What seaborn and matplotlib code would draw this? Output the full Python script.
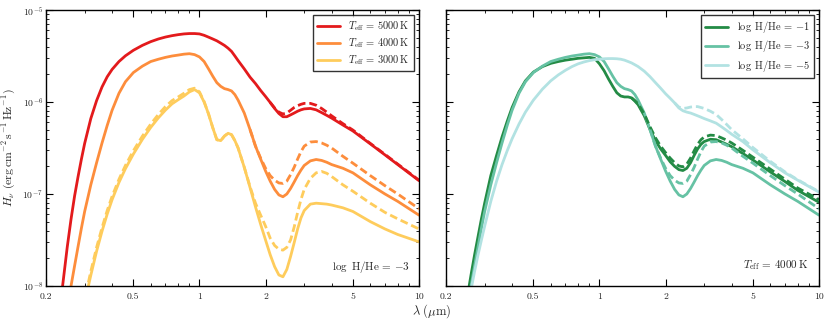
import matplotlib
matplotlib.use("Agg")
import matplotlib.pyplot as plt
import seaborn as sns
from matplotlib.ticker import LogLocator, NullFormatter, FixedLocator, FixedFormatter

# wavelength grid in micron; curve values are log10 H_nu (erg cm^-2 s^-1 Hz^-1)
lam_grid = [0.30, 0.32, 0.34, 0.36, 0.38, 0.40,
            0.43, 0.46, 0.50, 0.55, 0.60,
            0.65, 0.70, 0.75, 0.80, 0.85,
            0.90, 0.95, 1.0, 1.05, 1.1,
            1.15, 1.2, 1.25, 1.3, 1.35,
            1.4, 1.45, 1.5, 1.6, 1.7,
            1.8, 1.9, 2.0, 2.1, 2.2,
            2.3, 2.4, 2.5, 2.6, 2.7,
            2.8, 2.9, 3.0, 3.2, 3.4,
            3.6, 3.8, 4.0, 4.5, 5.0,
            6.0, 7.0, 8.0, 10.0]

# left panel, log H/He = -3
lam_5000 = [0.238, 0.25, 0.26, 0.27, 0.28, 0.29] + lam_grid
logh_5000 = [-8.0, -7.574, -7.275, -7.02, -6.81, -6.62,
             -6.45, -6.18, -5.985, -5.836, -5.726, -5.646,
             -5.56, -5.498, -5.438, -5.384, -5.344,
             -5.315, -5.294, -5.279, -5.268, -5.26,
             -5.256, -5.256, -5.26, -5.275, -5.295,
             -5.315, -5.335, -5.36, -5.385, -5.415,
             -5.45, -5.5, -5.55, -5.64, -5.73,
             -5.80, -5.875, -5.94, -6.005, -6.07,
             -6.125, -6.16, -6.16, -6.14, -6.12,
             -6.10, -6.085, -6.075, -6.07, -6.085,
             -6.115, -6.145, -6.175, -6.25, -6.315,
             -6.455, -6.575, -6.68, -6.855]
lam_5000d = [x for x in lam_grid if x >= 2.1]
logh_5000d = [-6.005, -6.065,
              -6.11, -6.13, -6.12, -6.09, -6.06,
              -6.04, -6.025, -6.015, -6.015, -6.035,
              -6.07, -6.11, -6.15, -6.235, -6.305,
              -6.45, -6.57, -6.675, -6.85]

lam_4000 = [0.26, 0.27, 0.28, 0.29] + lam_grid
logh_4000 = [-8.0, -7.78, -7.57, -7.37,
             -7.19, -6.9, -6.66, -6.445, -6.255, -6.09,
             -5.905, -5.78, -5.68, -5.61, -5.56,
             -5.535, -5.515, -5.50, -5.49, -5.48,
             -5.475, -5.485, -5.51, -5.56, -5.64,
             -5.72, -5.79, -5.83, -5.855, -5.865,
             -5.88, -5.92, -5.98, -6.12, -6.3,
             -6.48, -6.62, -6.75, -6.86, -6.95,
             -7.01, -7.03, -7.0, -6.94, -6.87,
             -6.8, -6.74, -6.69, -6.64, -6.625,
             -6.635, -6.655, -6.68, -6.72, -6.77,
             -6.9, -7.0, -7.08, -7.23]
lam_4000d = [x for x in lam_grid if x >= 1.7]
logh_4000d = [-6.3,
              -6.48, -6.61, -6.72, -6.8, -6.85,
              -6.88, -6.885, -6.86, -6.79, -6.71,
              -6.62, -6.54, -6.48, -6.435, -6.43,
              -6.445, -6.47, -6.5, -6.59, -6.665,
              -6.8, -6.91, -7.0, -7.16]

lam_3000 = [0.312] + [x for x in lam_grid if x >= 0.32]
logh_3000 = [-8.0,
             -7.883, -7.622, -7.404, -7.218, -7.062,
             -6.874, -6.725, -6.566, -6.405, -6.276,
             -6.172, -6.088, -6.02, -5.975, -5.935,
             -5.89, -5.865, -5.9, -6.0, -6.13,
             -6.28, -6.41, -6.42, -6.37, -6.34,
             -6.355, -6.42, -6.5, -6.71, -6.93,
             -7.14, -7.33, -7.5, -7.66, -7.79,
             -7.88, -7.9, -7.82, -7.68, -7.53,
             -7.38, -7.26, -7.18, -7.11, -7.1,
             -7.105, -7.11, -7.12, -7.15, -7.19,
             -7.3, -7.38, -7.44, -7.52]
lam_3000d = lam_3000
logh_3000d = [-7.96,
              -7.84, -7.58, -7.365, -7.18, -7.025,
              -6.84, -6.69, -6.53, -6.37, -6.24,
              -6.135, -6.05, -5.985, -5.945, -5.905,
              -5.865, -5.85, -5.89, -5.995, -6.13,
              -6.28, -6.41, -6.42, -6.37, -6.34,
              -6.355, -6.42, -6.5, -6.71, -6.92,
              -7.1, -7.23, -7.35, -7.48, -7.56,
              -7.6, -7.61, -7.58, -7.5, -7.36,
              -7.2, -7.06, -6.95, -6.83, -6.77,
              -6.755, -6.775, -6.81, -6.9, -6.97,
              -7.1, -7.2, -7.27, -7.38]

# right panel, Teff = 4000 K (log H/He = -3 is the 4000 K curve above)
lam_hhe1 = [0.255, 0.26, 0.27, 0.28, 0.29] + lam_grid
logh_hhe1 = [-8.0, -7.88, -7.66, -7.46, -7.27,
             -7.1, -6.8, -6.58, -6.38, -6.21, -6.06,
             -5.89, -5.77, -5.675, -5.615, -5.58,
             -5.56, -5.545, -5.535, -5.525, -5.52,
             -5.515, -5.525, -5.585, -5.66, -5.75,
             -5.83, -5.9, -5.935, -5.945, -5.945,
             -5.955, -5.99, -6.03, -6.15, -6.3,
             -6.42, -6.51, -6.58, -6.65, -6.7,
             -6.735, -6.745, -6.72, -6.66, -6.58,
             -6.51, -6.46, -6.43, -6.405, -6.41,
             -6.435, -6.46, -6.485, -6.56, -6.63,
             -6.76, -6.865, -6.96, -7.09]
lam_hhe1d = [x for x in lam_grid if x >= 1.4]
logh_hhe1d = [-5.955, -5.985, -6.02, -6.13, -6.27,
              -6.39, -6.48, -6.55, -6.61, -6.66,
              -6.695, -6.705, -6.675, -6.61, -6.53,
              -6.46, -6.41, -6.38, -6.36, -6.365,
              -6.39, -6.415, -6.445, -6.525, -6.6,
              -6.73, -6.84, -6.935, -7.06]

lam_hhe5 = [0.262, 0.27, 0.28, 0.29] + lam_grid
logh_hhe5 = [-8.0, -7.84, -7.66, -7.5,
             -7.35, -7.08, -6.86, -6.68, -6.53, -6.40,
             -6.24, -6.11, -5.98, -5.86, -5.77,
             -5.705, -5.655, -5.615, -5.585, -5.565,
             -5.55, -5.54, -5.535, -5.53, -5.528,
             -5.528, -5.53, -5.535, -5.545, -5.56,
             -5.575, -5.595, -5.615, -5.665, -5.725,
             -5.79, -5.85, -5.91, -5.96, -6.01,
             -6.065, -6.095, -6.11, -6.12, -6.135,
             -6.15, -6.165, -6.18, -6.205, -6.23,
             -6.27, -6.31, -6.35, -6.43, -6.52,
             -6.66, -6.77, -6.85, -6.98]
lam_hhe5d = [x for x in lam_grid if x >= 2.2]
logh_hhe5d = [-6.01,
              -6.055, -6.07, -6.065, -6.055, -6.05,
              -6.05, -6.06, -6.07, -6.1, -6.135,
              -6.19, -6.245, -6.3, -6.4, -6.495,
              -6.645, -6.76, -6.845, -6.975]

temp_labels = [r'$T_{\rm eff}\,=\,5000\,{\rm K}$', r'$T_{\rm eff}\,=\,4000\,{\rm K}$',
               r'$T_{\rm eff}\,=\,3000\,{\rm K}$']
hhe_labels = [r'$\log\ {\rm H/He}\,=\,{-1}$', r'$\log\ {\rm H/He}\,=\,{-3}$', r'$\log\ {\rm H/He}\,=\,{-5}$']
temp_colors = ['#e31a1c', '#fd8d3c', '#fecc5c']
hhe_colors = ['#238b45', '#66c2a4', '#b2e2e2']
xtick_vals = [0.2, 0.5, 1, 2, 5, 10]
xtick_labels = ['0.2', '0.5', '1', '2', '5', '10']

sns.set_style("ticks")
plt.rcParams.update({
    'font.family': 'serif',
    'font.serif': ['cmr10', 'DejaVu Serif'],
    'mathtext.fontset': 'cm',
    'axes.formatter.use_mathtext': True,
    'axes.unicode_minus': False,
    'axes.edgecolor': 'black',
    'axes.linewidth': 1.0,
})

DASH = (0, (2.8, 1.4))

fig = plt.figure(figsize=(8.3, 3.24), dpi=100)
ax1 = fig.add_axes([46 / 830, 1 - 286 / 324, 373 / 830, 276 / 324])
ax2 = fig.add_axes([446 / 830, 1 - 286 / 324, 373 / 830, 276 / 324])


def draw(ax, lam, logh, color, dashed=False, label=None):
    assert len(lam) == len(logh), (len(lam), len(logh))
    h = [10 ** v for v in logh]
    sns.lineplot(x=lam, y=h, ax=ax, color=color, lw=2, sort=False, estimator=None,
                 linestyle=DASH if dashed else '-', label=label)


left = [(lam_5000, logh_5000, lam_5000d, logh_5000d), (lam_4000, logh_4000, lam_4000d, logh_4000d),
        (lam_3000, logh_3000, lam_3000d, logh_3000d)]
for (lx, ly, ldx, ldy), c, lab in zip(left, temp_colors, temp_labels):
    draw(ax1, lx, ly, c, label=lab)
for (lx, ly, ldx, ldy), c in zip(left, temp_colors):
    draw(ax1, ldx, ldy, c, dashed=True)

right = [(lam_hhe1, logh_hhe1, lam_hhe1d, logh_hhe1d), (lam_4000, logh_4000, lam_4000d, logh_4000d),
         (lam_hhe5, logh_hhe5, lam_hhe5d, logh_hhe5d)]
for (lx, ly, ldx, ldy), c, lab in zip(right, hhe_colors, hhe_labels):
    draw(ax2, lx, ly, c, label=lab)
for (lx, ly, ldx, ldy), c in zip(right, hhe_colors):
    draw(ax2, ldx, ldy, c, dashed=True)

for ax in (ax1, ax2):
    ax.set_xscale('log')
    ax.set_yscale('log')
    ax.set_xlim(0.2, 10)
    ax.set_ylim(1e-8, 1e-5)
    ax.xaxis.set_major_locator(FixedLocator(xtick_vals))
    ax.xaxis.set_major_formatter(FixedFormatter(xtick_labels))
    ax.xaxis.set_minor_locator(LogLocator(base=10, subs=range(2, 10)))
    ax.xaxis.set_minor_formatter(NullFormatter())
    ax.yaxis.set_minor_locator(LogLocator(base=10, subs=range(2, 10)))
    ax.yaxis.set_minor_formatter(NullFormatter())
    ax.tick_params(which='both', direction='in', top=True, right=True, labelsize=7, color='black')
    ax.tick_params(axis='x', pad=4.5)
    ax.tick_params(axis='y', pad=2)
    ax.tick_params(which='major', length=5, width=0.8)
    ax.tick_params(which='minor', length=2.5, width=0.6)
    for s in ax.spines.values():
        s.set_visible(True)
        s.set_color('black')
    ax.set_xlabel('')
    ax.set_ylabel('')
    ax.grid(False)

ax2.tick_params(labelleft=False)

for ax in (ax1, ax2):
    leg = ax.legend(loc='upper right', fontsize=7.5, frameon=True, fancybox=False, edgecolor='black',
                    handlelength=2.2, borderpad=0.4, labelspacing=0.3)
    leg.get_frame().set_linewidth(1.0)

ax1.text(0.975, 0.069, r'$\log\ {\rm H/He}\,=\,{-3}$', transform=ax1.transAxes, ha='right', va='center', fontsize=8)
ax2.text(0.97, 0.076, r'$T_{\rm eff}\,=\,4000\,{\rm K}$', transform=ax2.transAxes, ha='right', va='center', fontsize=8)

ax1.set_ylabel(r'$H_\nu\ ({\rm erg\,cm^{-2}\,s^{-1}\,Hz^{-1}})$', fontsize=8.5)
ax1.yaxis.set_label_coords(-0.076, 0.5)
fig.text(432 / 830, 1 - 311 / 324, r'$\lambda\ (\mu{\rm m})$', ha='center', va='center', fontsize=9)

fig.savefig("out.png", dpi=100)
